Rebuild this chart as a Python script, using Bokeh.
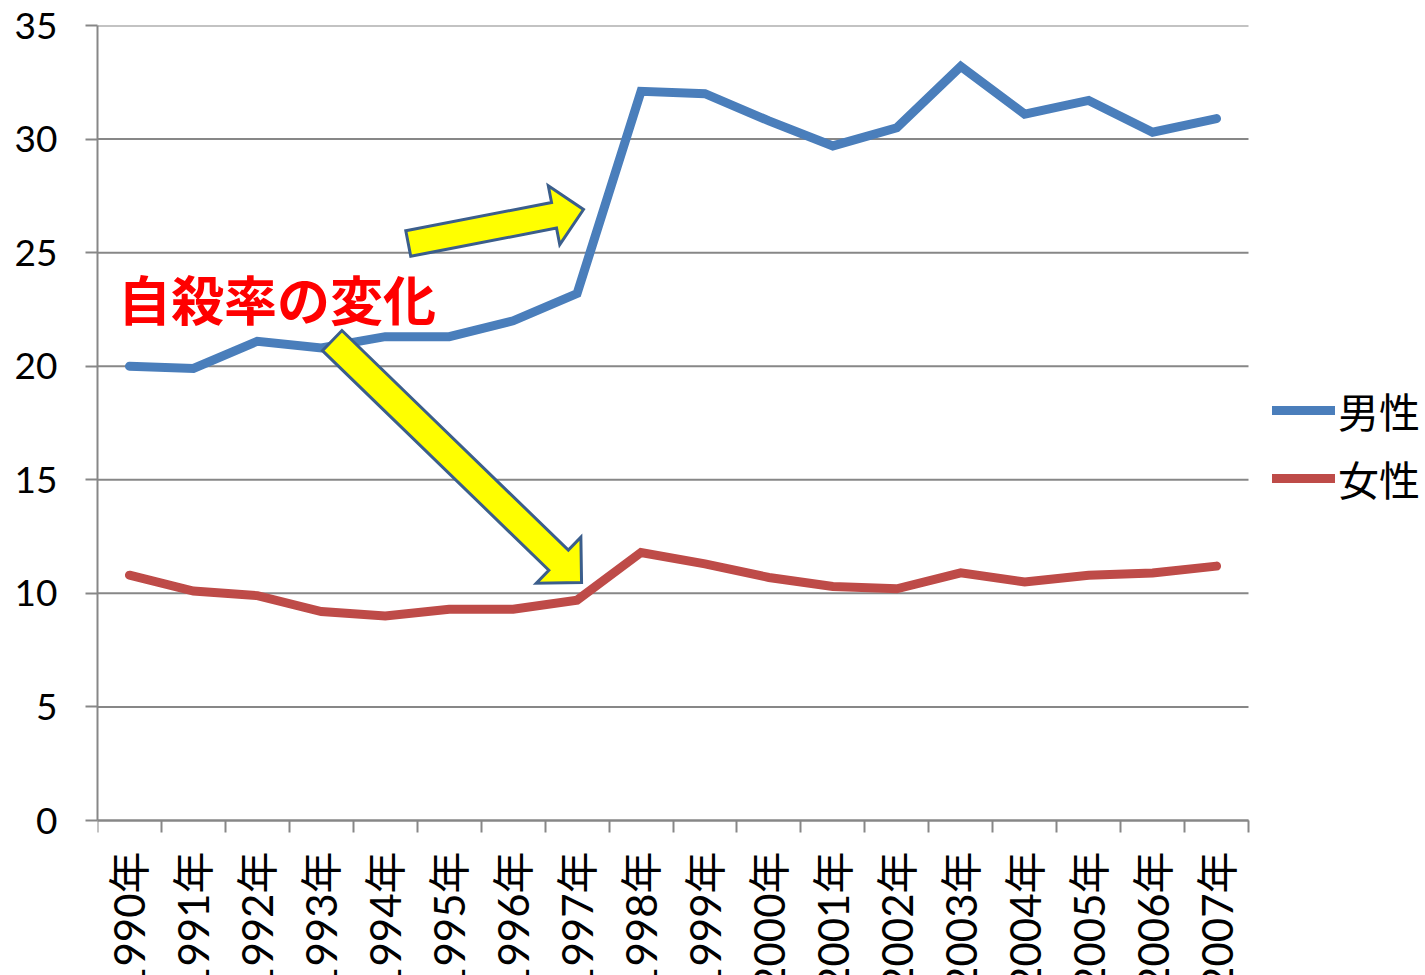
import math
from bokeh.plotting import figure
from bokeh.models import (Range1d, FixedTicker, Legend, LegendItem)
from bokeh.core.properties import value
from bokeh.embed import file_html
from bokeh.resources import INLINE

years = ["1990年", "1991年", "1992年", "1993年", "1994年", "1995年", "1996年", "1997年", "1998年",
         "1999年", "2000年", "2001年", "2002年", "2003年", "2004年", "2005年", "2006年", "2007年"]
male = [20.0, 19.9, 21.1, 20.8, 21.3, 21.3, 22.0, 23.2, 32.1, 32.0, 30.8, 29.7, 30.5, 33.2, 31.1, 31.7, 30.3, 30.9]
female = [10.8, 10.1, 9.9, 9.2, 9.0, 9.3, 9.3, 9.7, 11.8, 11.3, 10.7, 10.3, 10.2, 10.9, 10.5, 10.8, 10.9, 11.2]
y_ticks = [0, 5, 10, 15, 20, 25, 30, 35]
series_names = ["男性", "女性"]
title_text = "自殺率の変化"

BLUE = "#4A7EBB"
RED = "#BE4B48"
GRID = "#878787"
LATIN = "Lato, 'Noto Sans CJK JP', sans-serif"
CJK = "'Noto Sans CJK JP', sans-serif"

n = len(years)
Y_MAX = 35.0

# layout (pixels)
W, H = 1424, 975
BL, BT = 97, 25
PLOT_W = 1151      # pixel width of the data area (n categories)
PLOT_H = 795       # pixel height from 0 to Y_MAX
kx = PLOT_W / n
ky = PLOT_H / Y_MAX
x_end = (W - BL) / kx
y_min = Y_MAX - (H - BT) / ky

xs = [i + 0.5 for i in range(n)]

p = figure(width=W, height=H, output_backend="svg", toolbar_location=None,
           x_range=Range1d(0, x_end), y_range=Range1d(y_min, Y_MAX),
           min_border_left=BL, min_border_top=BT, min_border_right=0, min_border_bottom=0)
p.outline_line_color = None
p.background_fill_color = "white"
p.border_fill_color = "white"
p.xgrid.grid_line_color = None
p.ygrid.grid_line_color = None

# horizontal gridlines across the category area only
p.segment(x0=[0] * len(y_ticks), x1=[n] * len(y_ticks), y0=y_ticks, y1=y_ticks,
          line_color=GRID, line_width=2)

# x axis fixed at y=0
xa = p.xaxis[0]
xa.fixed_location = 0
xa.bounds = (0, n)
xa.ticker = FixedTicker(ticks=xs, minor_ticks=list(range(n + 1)))
xa.major_label_overrides = {x: lab for x, lab in zip(xs, years)}
xa.major_tick_line_color = None
xa.minor_tick_out = 12
xa.minor_tick_in = 0
xa.minor_tick_line_color = GRID
xa.minor_tick_line_width = 2
xa.axis_line_color = GRID
xa.axis_line_width = 2
xa.major_label_orientation = math.pi / 2
xa.major_label_text_font = LATIN
xa.major_label_text_font_size = "42px"
xa.major_label_text_color = "black"
xa.major_label_standoff = 19

ya = p.yaxis[0]
ya.bounds = (0, Y_MAX)
ya.ticker = FixedTicker(ticks=y_ticks)
ya.minor_tick_line_color = None
ya.major_tick_out = 12
ya.major_tick_in = 0
ya.major_tick_line_color = GRID
ya.major_tick_line_width = 2
ya.axis_line_color = GRID
ya.axis_line_width = 2
ya.major_label_text_font = LATIN
ya.major_label_text_font_size = "37px"
ya.major_label_text_color = "black"
ya.major_label_standoff = 28

# lines
r_m = p.line(xs, male, line_color=BLUE, line_width=9, line_cap="round", line_join="miter")
r_f = p.line(xs, female, line_color=RED, line_width=9, line_cap="round", line_join="miter")


def block_arrow(tail, tip, shaft_hw, head_hw, head_len):
    tx, ty = tail[0] * kx, tail[1] * ky
    hx, hy = tip[0] * kx, tip[1] * ky
    dx, dy = hx - tx, hy - ty
    L = math.hypot(dx, dy)
    ux, uy = dx / L, dy / L
    nx, ny = -uy, ux
    bx, by = hx - ux * head_len, hy - uy * head_len
    pts = [
        (tx + nx * shaft_hw, ty + ny * shaft_hw),
        (bx + nx * shaft_hw, by + ny * shaft_hw),
        (bx + nx * head_hw, by + ny * head_hw),
        (hx, hy),
        (bx - nx * head_hw, by - ny * head_hw),
        (bx - nx * shaft_hw, by - ny * shaft_hw),
        (tx - nx * shaft_hw, ty - ny * shaft_hw),
    ]
    return [q[0] / kx for q in pts], [q[1] / ky for q in pts]


ax1, ay1 = block_arrow((4.86, 25.40), (7.60, 26.90), 13, 30, 30)
ax2, ay2 = block_arrow((3.67, 21.13), (7.57, 10.48), 14, 32, 32)
p.patches([ax1, ax2], [ay1, ay2], fill_color="#FFFF00", line_color="#3B5E8C", line_width=3,
          line_join="miter")

# title text
p.text(x=[0.32], y=[23.02], text=[title_text], text_color="#FF0000",
       text_font=value(CJK), text_font_style="bold", text_font_size="53px",
       text_baseline="middle", text_align="left")

legend = Legend(items=[LegendItem(label=series_names[0], renderers=[r_m]),
                       LegendItem(label=series_names[1], renderers=[r_f])],
                location=(1175, 467), orientation="vertical",
                glyph_width=63, glyph_height=40, label_height=40, spacing=8,
                label_standoff=3, padding=0, margin=0,
                label_text_font=CJK, label_text_font_size="41px", label_text_color="black",
                border_line_color=None, background_fill_alpha=0)
p.add_layout(legend, "center")

open("out.html", "w").write(file_html(p, INLINE))
